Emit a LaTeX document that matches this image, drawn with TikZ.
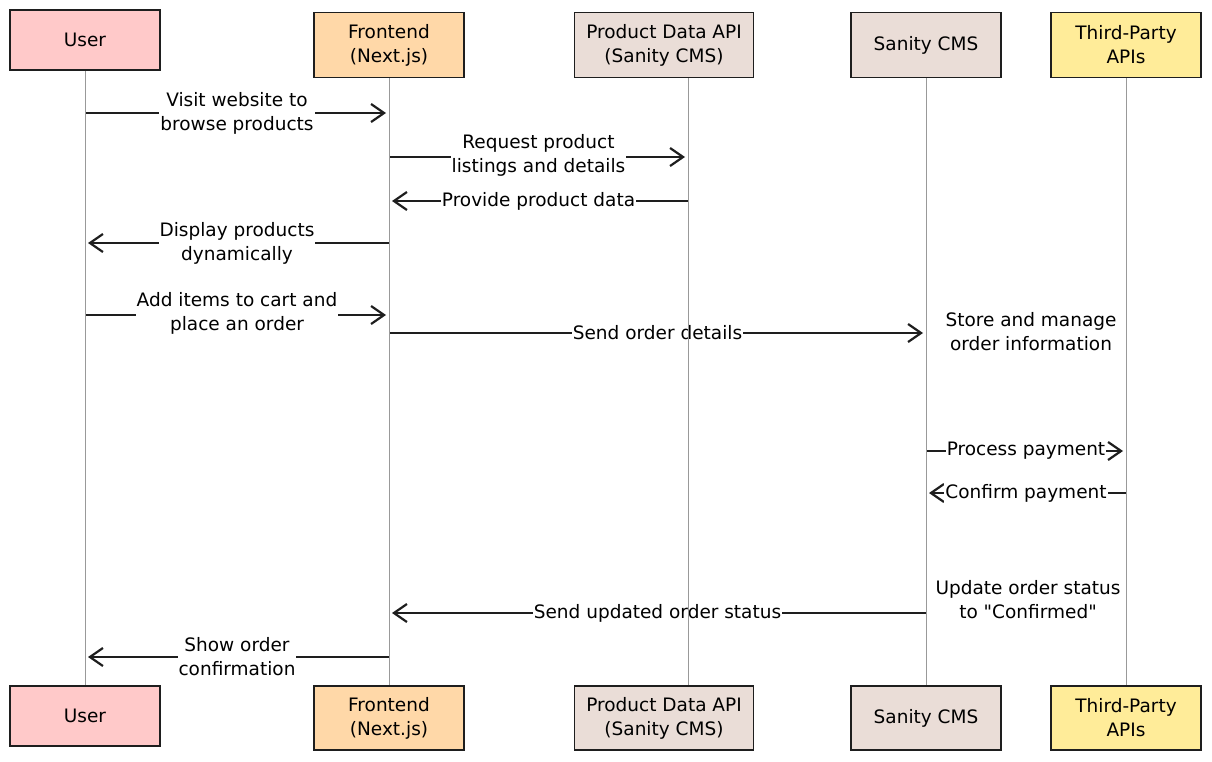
\documentclass[tikz,border=0pt]{standalone}
\usepackage{fontspec}
\setmainfont{DejaVu Sans}
\usepackage{tikz}
\usetikzlibrary{arrows.meta}
\usetikzlibrary{positioning}
\definecolor{uPink}{HTML}{FFC9C9}
\definecolor{fOrange}{HTML}{FFD8A8}
\definecolor{cmsTan}{HTML}{EADDD7}
\definecolor{apiYellow}{HTML}{FFEC99}
\definecolor{ink}{HTML}{1E1E1E}
\tikzset{actor/.style = {draw = ink, line width = 1.8pt, minimum width = 150pt, minimum height = 62pt,
    inner sep = 0, align = center, font = \fontsize{18.5}{24}\selectfont}}
\tikzset{msg/.style = {draw = ink, line width = 2.4pt, -{Straight Barb[length = 13pt, width = 18pt, line width = 2.2pt]}, shorten > = 3pt}}
\tikzset{lbl/.style = {fill = white, inner sep = 1pt, align = center, font = \fontsize{18.5}{24}\selectfont}}
\tikzset{note/.style = {align = center, inner sep = 0, font = \fontsize{18.5}{24}\selectfont}}
\tikzset{life/.style = {draw = gray!80, line width = 0.9pt}}

\begin{document}
\begin{tikzpicture}[x = 1pt, y = -1pt]
    \useasboundingbox (0, 0) rectangle (1212, 761);

    % participants, top row
    \node [actor, fill = uPink, minimum height = 60pt] (userT) at (85, 40) {User};
    \node [actor, fill = fOrange, minimum height = 65pt] (frontT) at (389, 45) {Frontend\\(Next.js)};
    \node [actor, fill = cmsTan, minimum width = 179pt, minimum height = 65pt] (pdapiT) at (664, 45) {Product Data API\\(Sanity CMS)};
    \node [actor, fill = cmsTan, minimum height = 65pt] (cmsT) at (926, 45) {Sanity CMS};
    \node [actor, fill = apiYellow, minimum height = 65pt] (apiT) at (1126, 45) {Third-Party\\APIs};

    % participants, bottom row
    \node [actor, fill = uPink, minimum height = 60pt] (userB) at (85, 716) {User};
    \node [actor, fill = fOrange, minimum height = 64pt] (frontB) at (389, 718) {Frontend\\(Next.js)};
    \node [actor, fill = cmsTan, minimum width = 179pt, minimum height = 64pt] (pdapiB) at (664, 718) {Product Data API\\(Sanity CMS)};
    \node [actor, fill = cmsTan, minimum height = 64pt] (cmsB) at (926, 718) {Sanity CMS};
    \node [actor, fill = apiYellow, minimum height = 64pt] (apiB) at (1126, 718) {Third-Party\\APIs};

    % messages
    \draw [msg] (userT.south |- 0, 113) -- node [lbl] {Visit website to\\browse products} (frontT.south |- 0, 113);
    \draw [msg] (frontT.south |- 0, 157) -- node [lbl, yshift = 2pt] {Request product\\listings and details} (688, 157);
    \draw [msg] (688, 201) -- node [lbl] {Provide product data} (frontT.south |- 0, 201);
    \draw [msg] (frontT.south |- 0, 243) -- node [lbl] {Display products\\dynamically} (userT.south |- 0, 243);
    \draw [msg] (userT.south |- 0, 315) -- node [lbl, yshift = 2pt] {Add items to cart and\\place an order} (frontT.south |- 0, 315);
    \draw [msg] (frontT.south |- 0, 333) -- node [lbl] {Send order details} (cmsT.south |- 0, 333);
    \node [note] (store) at (1031, 332) {Store and manage\\order information};
    \draw [msg] (cmsT.south |- 0, 451) -- node [lbl] {Process payment} (apiT.south |- 0, 451);
    \draw [msg] (apiT.south |- 0, 493) -- node [lbl] {Confirm payment} (cmsT.south |- 0, 493);
    \node [note] (update) at (1028, 600) {Update order status\\to \textquotedbl Confirmed\textquotedbl};
    \draw [msg] (cmsT.south |- 0, 613) -- node [lbl] {Send updated order status} (frontT.south |- 0, 613);
    \draw [msg] (frontT.south |- 0, 657) -- node [lbl] {Show order\\confirmation} (userT.south |- 0, 657);

    % lifelines
    \draw [life] (userT) -- (userB);
    \draw [life] (frontT) -- (frontB);
    \draw [life] (pdapiT.south -| 688, 0) -- (pdapiB.north -| 688, 0);
    \draw [life] (cmsT) -- (cmsB);
    \draw [life] (apiT) -- (apiB);
  \end{tikzpicture}
\end{document}
